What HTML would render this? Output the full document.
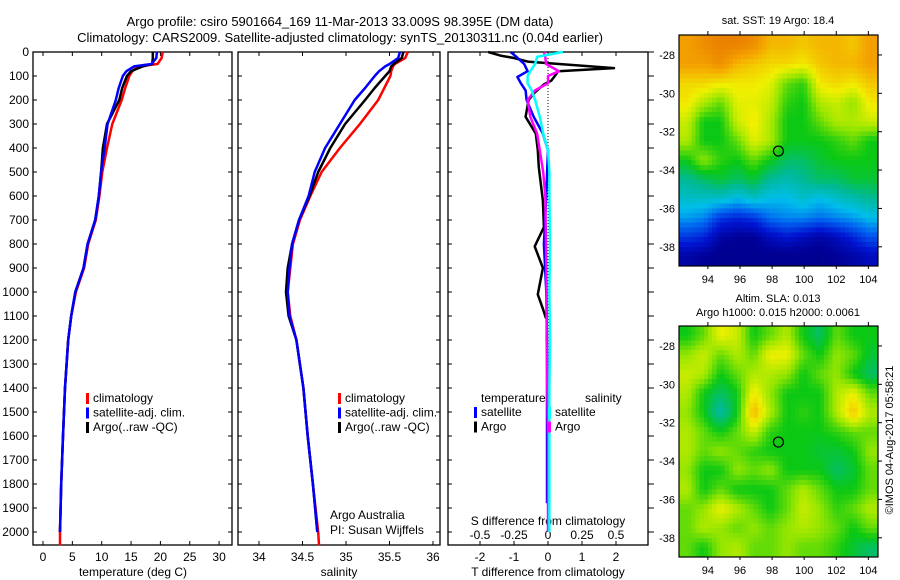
<!DOCTYPE html>
<html><head><meta charset="utf-8"><style>
body{margin:0;background:#fff;}
svg{display:block;font-family:"Liberation Sans",sans-serif;}
</style></head><body>
<svg id="c" width="900" height="580">
<text x="340" y="26" font-size="13" text-anchor="middle">Argo profile: csiro 5901664_169 11-Mar-2013 33.009S 98.395E (DM data)</text>
<text x="340" y="42" font-size="13" text-anchor="middle">Climatology: CARS2009. Satellite-adjusted climatology: synTS_20130311.nc (0.04d earlier)</text>
<text x="778" y="24" font-size="11" text-anchor="middle">sat. SST: 19 Argo: 18.4</text>
<text x="778" y="302" font-size="11" text-anchor="middle">Altim. SLA: 0.013</text>
<text x="778" y="316" font-size="11" text-anchor="middle">Argo h1000: 0.015 h2000: 0.0061</text>
<text transform="translate(893,440) rotate(-90)" font-size="11" text-anchor="middle">©IMOS 04-Aug-2017 05:58:21</text>
<text x="330" y="519" font-size="12">Argo Australia</text>
<text x="330" y="534" font-size="12">PI: Susan Wijffels</text>
</svg>
<script>
// ---- data ----
const depths   = [0,25,50,60,80,100,150,200,300,400,500,600,700,800,900,1000,1100,1200,1400,1600,1800,2000];
const tempClim = [20.4,20.2,19.5,16.2,15.2,14.7,14.0,13.4,11.8,10.9,10.1,9.6,9.0,7.7,7.0,5.6,4.8,4.3,3.75,3.4,3.1,2.9];
const tempSat  = [19.4,19.3,18.5,15.5,14.2,13.6,12.9,12.4,11.0,10.5,9.9,9.5,8.9,7.6,6.9,5.5,4.8,4.3,3.75,3.4,3.1,2.9];
const tempArgo = [18.7,18.7,18.6,17.0,15.0,14.3,13.5,13.0,10.9,10.2,9.9,9.5,8.9,7.6,6.9,5.5,4.8,4.3,3.75,3.4,3.1,2.9];
const salClim  = [35.71,35.68,35.56,35.54,35.52,35.51,35.44,35.37,35.16,34.93,34.72,34.59,34.47,34.39,34.36,34.33,34.36,34.43,34.51,34.56,34.62,34.68];
const salSat   = [35.62,35.60,35.50,35.45,35.38,35.33,35.22,35.10,34.93,34.76,34.64,34.57,34.46,34.38,34.35,34.33,34.35,34.43,34.51,34.56,34.62,34.67];
const salArgo  = [35.66,35.64,35.55,35.52,35.50,35.45,35.33,35.22,34.99,34.82,34.68,34.58,34.46,34.38,34.33,34.31,34.34,34.43,34.51,34.56,34.62,34.67];
const dDepths  = [0,15,25,40,67,80,104,120,135,170,200,270,340,410,480,620,730,810,900,1010,1070,1110];
const dTArgo   = [-1.76,-1.4,-1.0,-0.6,1.94,0.3,0.18,0.09,-0.12,-0.4,-0.57,-0.66,-0.36,-0.3,-0.27,-0.15,-0.12,-0.39,-0.15,-0.3,-0.15,-0.06];
const sDepths  = [0,20,50,80,104,130,160,200,270,340,410,480,600,800,1000,1200,1400,1600,1800,1880];
const dTSat    = [-1.1,-0.93,-0.7,-0.6,-0.9,-0.8,-0.66,-0.63,-0.42,-0.15,0,-0.02,-0.05,-0.12,-0.05,-0.03,-0.03,-0.03,-0.03,-0.03];
const s2Depths = [0,20,50,80,100,130,160,200,270,340,410,500,600,800,1000,1200,1400,1600,1800,2000];
const dSArgo   = [-0.03,-0.02,-0.015,0.08,0.0,0.0,-0.095,-0.15,-0.13,-0.08,-0.06,-0.035,-0.02,-0.015,-0.01,-0.01,-0.005,0,0,0];
const dSSat    = [0.11,-0.08,-0.095,-0.13,-0.15,-0.15,-0.12,-0.095,-0.06,-0.035,0,0.01,0.01,0.015,0.01,0.015,0.01,0.01,0.01,0.01];
const depthTicks = [0,100,200,300,400,500,600,700,800,900,1000,1100,1200,1300,1400,1500,1600,1700,1800,1900,2000];
const tempTicks = [0,5,10,15,20,25,30];
const salTicks = [34,34.5,35,35.5,36];
const tDiffTicks = [-2,-1,0,1,2];
const sDiffTicks = [-0.5,-0.25,0,0.25,0.5];
const sDiffLabels = ["-0.5","-0.25","0","0.25","0.5"];
const lonTicks = [94,96,98,100,102,104];
const latTicks = [-28,-30,-32,-34,-36,-38];
const sstGrid = [
[0.75,0.78,0.8,0.8,0.78,0.72,0.72,0.7,0.72,0.72,0.7,0.75],
[0.75,0.75,0.78,0.72,0.7,0.68,0.68,0.66,0.7,0.72,0.72,0.75],
[0.68,0.68,0.66,0.66,0.66,0.64,0.55,0.52,0.66,0.68,0.66,0.7],
[0.66,0.6,0.55,0.64,0.64,0.62,0.52,0.5,0.6,0.62,0.58,0.66],
[0.62,0.5,0.5,0.62,0.66,0.6,0.5,0.5,0.55,0.6,0.6,0.62],
[0.6,0.5,0.5,0.55,0.64,0.6,0.5,0.5,0.5,0.52,0.55,0.5],
[0.5,0.58,0.52,0.5,0.55,0.5,0.45,0.45,0.48,0.5,0.5,0.5],
[0.42,0.45,0.48,0.45,0.48,0.42,0.4,0.42,0.45,0.45,0.48,0.48],
[0.38,0.38,0.38,0.35,0.38,0.35,0.35,0.38,0.35,0.38,0.4,0.42],
[0.32,0.3,0.22,0.2,0.22,0.28,0.3,0.3,0.28,0.3,0.32,0.35],
[0.22,0.2,0.12,0.1,0.1,0.15,0.18,0.15,0.12,0.15,0.2,0.25],
[0.12,0.1,0.08,0.08,0.08,0.08,0.08,0.08,0.08,0.1,0.12,0.15]];
const slaGrid = [
[0.5,0.55,0.65,0.62,0.5,0.55,0.6,0.5,0.45,0.55,0.5,0.5],
[0.58,0.62,0.55,0.6,0.55,0.65,0.65,0.55,0.5,0.58,0.55,0.48],
[0.62,0.6,0.5,0.55,0.6,0.6,0.58,0.5,0.55,0.58,0.5,0.45],
[0.6,0.5,0.45,0.5,0.66,0.58,0.5,0.5,0.5,0.6,0.65,0.55],
[0.58,0.5,0.4,0.5,0.72,0.6,0.5,0.52,0.5,0.6,0.7,0.6],
[0.6,0.55,0.5,0.55,0.62,0.52,0.5,0.5,0.5,0.52,0.55,0.55],
[0.6,0.55,0.58,0.55,0.52,0.5,0.5,0.5,0.48,0.48,0.5,0.58],
[0.58,0.5,0.5,0.58,0.55,0.58,0.5,0.5,0.5,0.45,0.48,0.55],
[0.6,0.5,0.55,0.5,0.5,0.5,0.55,0.6,0.55,0.5,0.5,0.55],
[0.55,0.58,0.65,0.6,0.55,0.5,0.55,0.62,0.58,0.52,0.55,0.6],
[0.55,0.6,0.58,0.55,0.58,0.55,0.58,0.6,0.58,0.55,0.5,0.55],
[0.55,0.5,0.58,0.6,0.55,0.55,0.58,0.55,0.55,0.52,0.48,0.45]];
const argoLon = 98.395, argoLat = -33.009;

// ---- drawing ----
const svg = document.getElementById('c');
const NS = 'http://www.w3.org/2000/svg';
function mk(tag, attrs, parent){const e=document.createElementNS(NS,tag);for(const k in attrs)e.setAttribute(k,attrs[k]);(parent||svg).appendChild(e);return e;}
const Y = d => 52 + d*0.24;
const PT = 545;
const xT = v => 43 + v*5.87;
const xS = v => 259 + (v-34)*87;
const xDT = v => 548 + v*34;
const xDS = v => 548 + v*136;

function panel(x0,x1,name){
  const r=mk('rect',{x:x0,y:52,width:x1-x0,height:PT-52,fill:'none',stroke:'#000','stroke-width':1.3});
  
  
}
panel(33,232,'temperature-panel');
panel(238,440,'salinity-panel');
panel(448,648,'difference-panel');

depthTicks.forEach(d=>{
  const t=mk('text',{x:29,y:Y(d)+4,'font-size':12,'text-anchor':'end'});t.textContent=d;
  
  
  [[33,37],[228,232],[238,242],[436,440],[448,452],[648,654]].forEach(p=>mk('line',{x1:p[0],x2:p[1],y1:Y(d),y2:Y(d),stroke:'#000'}));
});
function xticks(ticks,fx,labels,y,name){
  ticks.forEach((v,i)=>{
    const x=fx(v);
    mk('line',{x1:x,x2:x,y1:PT,y2:PT-4,stroke:'#000'});
    mk('line',{x1:x,x2:x,y1:52,y2:56,stroke:'#000'});
    const t=mk('text',{x:x,y:y,'font-size':12,'text-anchor':'middle'});t.textContent=labels?labels[i]:v;
    
    
  });
}
xticks(tempTicks,xT,null,561,'temperature-tick-label');
xticks(salTicks,xS,null,561,'salinity-tick-label');
xticks(tDiffTicks,xDT,null,561,'t-diff-tick-label');
sDiffTicks.forEach((v,i)=>{
  const t=mk('text',{x:xDS(v),y:539,'font-size':12,'text-anchor':'middle'});t.textContent=sDiffLabels[i];
  
  
});
function lbl(x,y,s,name,anchor){const t=mk('text',{x:x,y:y,'font-size':12,'text-anchor':anchor||'middle'});t.textContent=s;
  
  return t;}
lbl(133,576,'temperature (deg C)','x-axis-title-temperature');
lbl(339,576,'salinity','x-axis-title-salinity');
lbl(548,576,'T difference from climatology','x-axis-title-t-diff');
lbl(548,525,'S difference from climatology','x-axis-title-s-diff');

mk('line',{x1:548,x2:548,y1:52,y2:Y(2000),stroke:'#000','stroke-dasharray':'1,2'});

function line(xs,ds,fx,color,name,w){
  const pts=xs.map((v,i)=>fx(v).toFixed(1)+','+Y(ds[i]).toFixed(1)).join(' ');
  const p=mk('polyline',{points:pts,fill:'none',stroke:color,'stroke-width':w||2.5,'stroke-linejoin':'round'});
  
  
}
const dExt = depths.concat([2055]);
line(tempClim.concat([2.9]),dExt,xT,'#f00','temp-climatology-line');
line(tempArgo,depths,xT,'#000','temp-argo-line');
line(tempSat,depths,xT,'#00f','temp-satellite-line');
line(salClim.concat([34.69]),dExt,xS,'#f00','sal-climatology-line');
line(salArgo,depths,xS,'#000','sal-argo-line');
line(salSat,depths,xS,'#00f','sal-satellite-line');
line(dTArgo,dDepths,xDT,'#000','t-diff-argo-line');
line(dTSat,sDepths,xDT,'#00f','t-diff-satellite-line');
line(dSArgo,s2Depths,xDS,'#f0f','s-diff-argo-line');
line(dSSat,s2Depths,xDS,'#0ff','s-diff-satellite-line');

function legend(x,y,items,pre){
  items.forEach((it,i)=>{
    const yy=y+i*14.5;
    const r=mk('rect',{x:x,y:yy-9,width:3,height:11,fill:it[1]});
    
    
    lbl(x+7,yy,it[0],pre+'-entry','start');
  });
}
legend(86,402,[['climatology','#f00'],['satellite-adj. clim.','#00f'],['Argo(..raw -QC)','#000']],'temp-legend');
legend(338,402,[['climatology','#f00'],['satellite-adj. clim.','#00f'],['Argo(..raw -QC)','#000']],'sal-legend');
lbl(481,402,'temperature','diff-legend-temp-header','start');
lbl(585,402,'salinity','diff-legend-sal-header','start');
legend(474,416,[['satellite','#00f'],['Argo','#000']],'diff-legend-temp');
legend(548,416,[['satellite','#0ff'],['Argo','#f0f']],'diff-legend-sal');

// maps
const cmapStops=[[0,[0,0,120]],[0.1,[0,0,150]],[0.18,[0,20,210]],[0.27,[0,100,240]],[0.35,[0,190,235]],[0.42,[0,185,150]],[0.5,[10,200,20]],[0.58,[150,230,0]],[0.65,[240,240,0]],[0.74,[245,165,0]],[0.85,[225,100,0]],[1,[200,40,0]]];
function cmap(v){
  v=Math.max(0,Math.min(1,v));
  for(let i=1;i<cmapStops.length;i++){
    if(v<=cmapStops[i][0]){
      const a=cmapStops[i-1],b=cmapStops[i],t=(v-a[0])/(b[0]-a[0]);
      return 'rgb('+a[1].map((c,k)=>Math.round(c+(b[1][k]-c)*t)).join(',')+')';
    }
  }
  return 'rgb(200,40,0)';
}
function sample(grid,fy,fx){
  const rows=grid.length, cols=grid[0].length;
  const y=Math.max(0,Math.min(rows-1,fy-0.5)), x=Math.max(0,Math.min(cols-1,fx-0.5));
  const i0=Math.floor(y), j0=Math.floor(x), i1=Math.min(rows-1,i0+1), j1=Math.min(cols-1,j0+1);
  const ty=y-i0, tx=x-j0;
  return grid[i0][j0]*(1-ty)*(1-tx)+grid[i0][j1]*(1-ty)*tx+grid[i1][j0]*ty*(1-tx)+grid[i1][j1]*ty*tx;
}
function map(grid,top,bottom,name){
  const L=679,R=878;
  const lonMin=92.2,lonMax=104.6,latTop=-26.96,latBot=-39.0;
  const mx=lon=>L+(lon-lonMin)/(lonMax-lonMin)*(R-L);
  const my=lat=>top+(latTop-lat)/(latTop-latBot)*(bottom-top);
  const rows=grid.length, cols=grid[0].length, up=4;
  const g=mk('g',{'shape-rendering':'crispEdges'});
  
  
  const cw=(R-L)/(cols*up), ch=(bottom-top)/(rows*up);
  for(let i=0;i<rows*up;i++)for(let j=0;j<cols*up;j++){
    const v=sample(grid,(i+0.5)/up,(j+0.5)/up);
    mk('rect',{x:(L+j*cw).toFixed(2),y:(top+i*ch).toFixed(2),width:(cw+0.5).toFixed(2),height:(ch+0.5).toFixed(2),fill:cmap(v)},g);
  }
  mk('rect',{x:L,y:top,width:R-L,height:bottom-top,fill:'none',stroke:'#000','stroke-width':1.2});
  lonTicks.forEach(lon=>{
    mk('line',{x1:mx(lon),x2:mx(lon),y1:top,y2:top-4,stroke:'#000'});
    mk('line',{x1:mx(lon),x2:mx(lon),y1:bottom,y2:bottom+3,stroke:'#000'});
    const t=lbl(mx(lon),bottom+17,String(lon),name+'-lon-label');t.setAttribute('font-size',11);
  });
  latTicks.forEach(lat=>{
    mk('line',{x1:R,x2:R+4,y1:my(lat),y2:my(lat),stroke:'#000'});
    const t=lbl(L-4,my(lat)+4,String(lat),name+'-lat-label','end');t.setAttribute('font-size',11);
  });
  const c=mk('circle',{cx:mx(argoLon),cy:my(argoLat),r:5,fill:'none',stroke:'#000','stroke-width':1.2});
  
  
}
map(sstGrid,35,266,'sst-map');
map(slaGrid,326,557,'sla-map');
</script>
</body></html>
